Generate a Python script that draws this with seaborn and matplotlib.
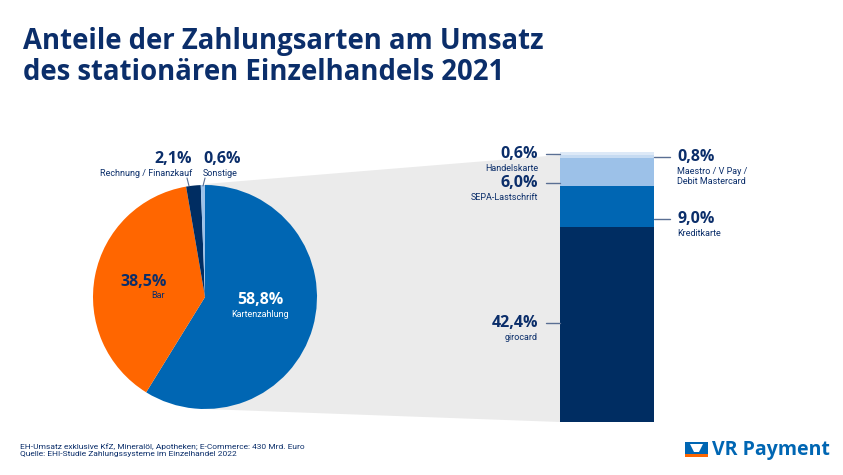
import matplotlib
matplotlib.use("Agg")
import matplotlib.pyplot as plt
import seaborn as sns
import numpy as np
from matplotlib.patches import Polygon, Rectangle

# data
pie_labels = ["Kartenzahlung", "Bar", "Rechnung / Finanzkauf", "Sonstige"]
pie_values = [58.8, 38.5, 2.1, 0.6]
pie_colors = ["#0066b3", "#ff6600", "#002d62", "#9cc1e8"]

card_labels = ["girocard", "Kreditkarte", "SEPA-Lastschrift",
               "Maestro / V Pay /\nDebit Mastercard", "Handelskarte"]
card_values = [42.4, 9.0, 6.0, 0.8, 0.6]
card_colors = ["#002d62", "#0066b3", "#9cc1e8", "#c6dbf2", "#dde9f7"]

title = "Anteile der Zahlungsarten am Umsatz\ndes stationären Einzelhandels 2021"
footer = ("EH-Umsatz exklusive KfZ, Mineralöl, Apotheken; E-Commerce: 430 Mrd. Euro\n"
          "Quelle: EHI-Studie Zahlungssysteme im Einzelhandel 2022")

NAVY = "#0b2e6a"
W, H = 843, 475

sns.set_style("white")
plt.rcParams['font.family'] = ['Open Sans', 'DejaVu Sans']
SMALL = ['Roboto', 'DejaVu Sans']

fig = plt.figure(figsize=(W / 100, H / 100), dpi=100)

def px_axes(z):
    a = fig.add_axes([0, 0, 1, 1], zorder=z)
    a.set_xlim(0, W)
    a.set_ylim(H, 0)
    a.axis("off")
    a.patch.set_alpha(0)
    return a

# background overlay with the grey connector
bg = px_axes(0)
bg.add_patch(Polygon([(205, 184), (560, 155), (560, 422), (205, 409)],
                     closed=True, color="#ebebeb", lw=0))

# pie
cx, cy, r = 205, 297, 112
pax = fig.add_axes([(cx - r) / W, (H - cy - r) / H, 2 * r / W, 2 * r / H], zorder=1)
pax.pie(pie_values, colors=pie_colors, startangle=90, counterclock=False,
        wedgeprops=dict(linewidth=0))
pax.set_xlim(-1, 1)
pax.set_ylim(-1, 1)
pax.axis("off")

# stacked bar (seaborn, cumulative layers drawn largest first)
bx0, bx1, by0, by1 = 560, 654, 152, 422
bax = fig.add_axes([bx0 / W, (H - by1) / H, (bx1 - bx0) / W, (by1 - by0) / H], zorder=1)
cum = np.cumsum(card_values)
for total, col in zip(cum[::-1], card_colors[::-1]):
    sns.barplot(x=[0], y=[total], color=col, width=1, saturation=1,
                linewidth=0, ax=bax)
bax.set_xlim(-0.5, 0.5)
bax.set_ylim(0, cum[-1])
bax.axis("off")

# foreground text
fg = px_axes(3)
fg.text(23, 57, title, fontsize=19.8, fontweight="bold", color=NAVY,
        va="center", ha="left", linespacing=1.05)

def label(x, y, num, name, ha, numcolor=NAVY, namecolor=NAVY):
    fg.text(x, y, num, fontsize=11.5, fontweight="bold", color=numcolor,
            ha=ha, va="center")
    fg.text(x, y + 10, name, fontsize=6.5, color=namecolor, ha=ha, va="top",
            family=SMALL, linespacing=1.1)

def fmt(v):
    return f"{v:.1f}".replace(".", ",") + "%"

# pie labels
label(260, 300, fmt(pie_values[0]), pie_labels[0], "center", "white", "white")
fg.text(167, 282, fmt(pie_values[1]), fontsize=11.5, fontweight="bold",
        color=NAVY, ha="right", va="center")
fg.text(165, 291, pie_labels[1], fontsize=6.5, color=NAVY, ha="right",
        va="top", family=SMALL)
label(192, 159, fmt(pie_values[2]), pie_labels[2], "right")
label(203, 159, fmt(pie_values[3]), pie_labels[3], "left")
fg.plot([187, 189], [178, 186], color="#5a6f93", lw=0.8)
fg.plot([205, 203], [178, 186], color="#5a6f93", lw=0.8)

# bar labels
lc = "#5a6f93"
label(538, 154, fmt(card_values[4]), card_labels[4], "right")
fg.plot([546, 560], [154, 154], color=lc, lw=1)
label(538, 183, fmt(card_values[2]), card_labels[2], "right")
fg.plot([546, 560], [183, 183], color=lc, lw=1)
label(538, 323, fmt(card_values[0]), card_labels[0], "right")
fg.plot([546, 560], [323, 323], color=lc, lw=1)
label(677, 157, fmt(card_values[3]), card_labels[3], "left")
fg.plot([654, 670], [157, 157], color=lc, lw=1)
label(677, 219, fmt(card_values[1]), card_labels[1], "left")
fg.plot([654, 670], [219, 219], color=lc, lw=1)

# footer
fg.text(20, 450, footer, fontsize=6.0, color=NAVY, ha="left", va="center",
        family=SMALL, linespacing=1.35)

# logo
fg.add_patch(Rectangle((685, 442), 23, 12, color="#0066b3", lw=0))
fg.add_patch(Rectangle((685, 454), 23, 3, color="#ff6600", lw=0))
fg.add_patch(Polygon([(690, 444), (703, 444), (699, 452), (694, 452)],
                     closed=True, color="white", lw=0))
fg.text(712, 450, "VR Payment", fontsize=14, fontweight="bold",
        color="#0066b3", ha="left", va="center")

fig.savefig("out.png", dpi=100)
